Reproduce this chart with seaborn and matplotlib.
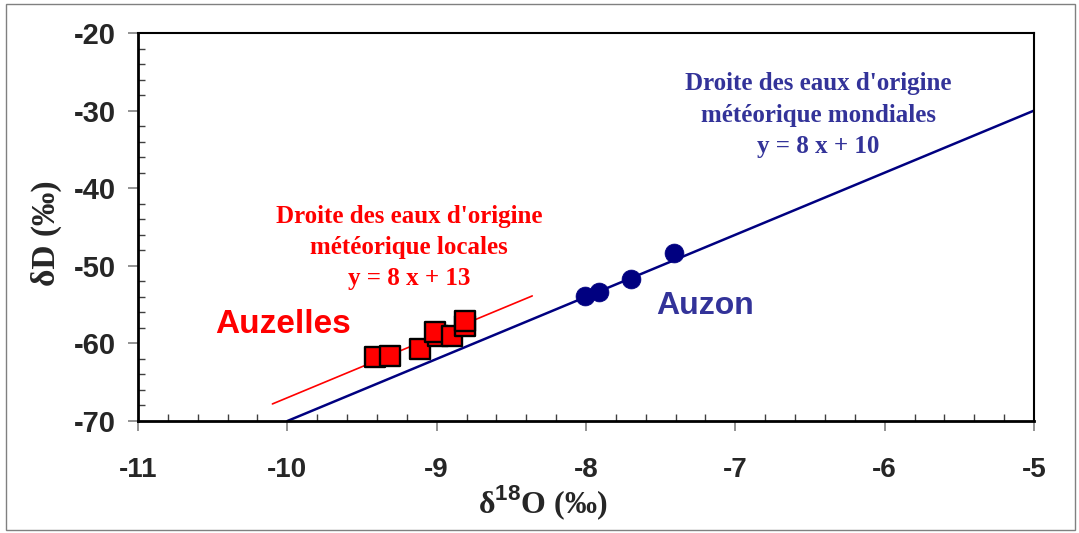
import matplotlib
matplotlib.use("Agg")
import matplotlib.pyplot as plt
import seaborn as sns
import pandas as pd
import numpy as np
from matplotlib.ticker import MultipleLocator
from matplotlib.patches import Rectangle

# Data
auzelles_d18O = [-9.41, -9.31, -9.11, -8.99, -9.01, -8.90, -8.81, -8.81]
auzelles_dD = [-61.7, -61.6, -60.7, -59.1, -58.5, -59.1, -57.8, -57.1]
auzon_d18O = [-8.01, -7.91, -7.70, -7.41]
auzon_dD = [-53.85, -53.4, -51.7, -48.4]
gmwl_x = [-10.0, -5.0]          # y = 8x + 10
gmwl_slope, gmwl_icpt = 8, 10
lmwl_x = [-10.1, -8.36]         # y = 8x + 13
lmwl_slope, lmwl_icpt = 8, 13
x_ticks = [-11, -10, -9, -8, -7, -6, -5]
y_ticks = [-70, -60, -50, -40, -30, -20]

sns.set_style("white")
plt.rcParams['font.family'] = ['Liberation Sans', 'DejaVu Sans']
plt.rcParams['mathtext.fontset'] = 'custom'
plt.rcParams['mathtext.rm'] = 'Liberation Serif'
plt.rcParams['mathtext.bf'] = 'Liberation Serif:bold'
plt.rcParams['mathtext.sf'] = 'Liberation Sans:bold'

fig = plt.figure(figsize=(10.79, 5.33), dpi=100)
ax = fig.add_axes([0.1279, 0.2101, 0.8304, 0.7280])

gmwl = pd.DataFrame({"x": gmwl_x, "y": [gmwl_slope * v + gmwl_icpt for v in gmwl_x]})
lmwl = pd.DataFrame({"x": lmwl_x, "y": [lmwl_slope * v + lmwl_icpt for v in lmwl_x]})
sns.lineplot(data=gmwl, x="x", y="y", color="#000080", lw=1.8, ax=ax, zorder=2)
sns.lineplot(data=lmwl, x="x", y="y", color="#FF0000", lw=1.2, ax=ax, zorder=2)

df_a = pd.DataFrame({"x": auzelles_d18O, "y": auzelles_dD})
df_b = pd.DataFrame({"x": auzon_d18O, "y": auzon_dD})
sns.scatterplot(data=df_a, x="x", y="y", marker="s", s=190, color="#FF0000",
                edgecolor="black", linewidth=1.7, ax=ax, zorder=3)
sns.scatterplot(data=df_b, x="x", y="y", marker="o", s=185, color="#000080",
                edgecolor="#000080", linewidth=0.5, ax=ax, zorder=3)

ax.set_xlim(-11, -5)
ax.set_ylim(-70, -20)
ax.set_xticks(x_ticks)
ax.set_yticks(y_ticks)
ax.set_xticklabels([str(t) for t in x_ticks])
ax.set_yticklabels([str(t) for t in y_ticks])
ax.xaxis.set_minor_locator(MultipleLocator(0.2))
ax.yaxis.set_minor_locator(MultipleLocator(2))
ax.tick_params(axis='both', which='major', direction='out', length=7, width=1.2,
               color='#808080', bottom=True, left=True)
ax.tick_params(axis='x', which='major', labelsize=20, pad=19)
ax.tick_params(axis='y', which='major', labelsize=21, pad=9)
ax.tick_params(axis='both', which='minor', direction='in', length=5, width=1,
               color='#404040', bottom=True, left=True)
for lab in ax.get_xticklabels() + ax.get_yticklabels():
    lab.set_fontweight('bold')

for side in ['left', 'bottom']:
    ax.spines[side].set_linewidth(2.0)
    ax.spines[side].set_color('black')
for side in ['top', 'right']:
    ax.spines[side].set_linewidth(1.5)
    ax.spines[side].set_color('black')

serif = ['Liberation Serif', 'DejaVu Serif']
ax.set_xlabel(r"δ$^{\mathsf{18}}$O (‰)", fontsize=23, fontweight='bold', family=serif)
ax.set_ylabel("δD (‰)", fontsize=24, fontweight='bold', family=serif)
ax.xaxis.set_label_coords(0.452, -0.16)
ax.yaxis.set_label_coords(-0.085, 0.485)

ax.text(-6.445, -30.57, "Droite des eaux d'origine\nmétéorique mondiales\ny = 8 x + 10",
        ha='center', va='center', color='#333399', fontsize=18, fontweight='bold',
        family=serif, linespacing=1.45)
ax.text(-9.185, -47.6, "Droite des eaux d'origine\nmétéorique locales\ny = 8 x + 13",
        ha='center', va='center', color='#FF0000', fontsize=18, fontweight='bold',
        family=serif, linespacing=1.45)
ax.text(-10.03, -57.6, "Auzelles", ha='center', va='center', color='#FF0000',
        fontsize=24, fontweight='bold')
ax.text(-7.20, -55.2, "Auzon", ha='center', va='center', color='#333399',
        fontsize=23, fontweight='bold')

fig.patches.append(Rectangle((0.006, 0.005), 0.990, 0.988, transform=fig.transFigure,
                             fill=False, edgecolor='#808080', lw=1.0))

fig.savefig("out.png", dpi=100)
